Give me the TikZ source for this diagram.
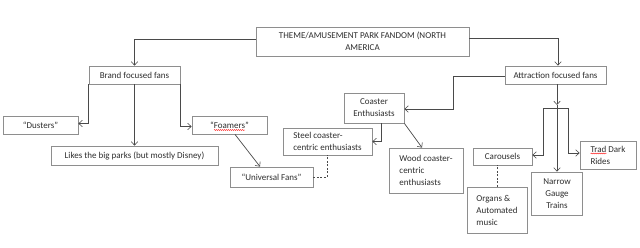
\documentclass[tikz,border=0pt]{standalone}
\usepackage{fontspec}
\setmainfont{Carlito}
\usetikzlibrary{arrows.meta,decorations.pathmorphing}
\definecolor{boxline}{HTML}{8E8E8E}
\definecolor{conline}{HTML}{4A4A4A}
\definecolor{txt}{HTML}{2E2E2E}
\tikzset{
  fanbox/.style={draw=boxline, line width=0.8pt, fill=white, inner sep=0pt, text=txt,
    font=\fontsize{9}{12}\selectfont, align=center},
  lbox/.style={fanbox, align=left},
  conn/.style={draw=conline, line width=0.7pt},
  arr/.style={conn, -{Straight Barb[length=3.5pt,width=6.5pt,line width=0.6pt]}},
  dconn/.style={conn, dashed, dash pattern=on 2pt off 1.5pt},
  spell/.style={draw=red, line width=0.4pt, decorate, decoration={snake, amplitude=0.5pt, segment length=2pt}}
}
\begin{document}
\begin{tikzpicture}[x=1pt,y=-1pt]
\useasboundingbox[fill=white] (0,0) rectangle (640,247);
% nodes
\node[fanbox, minimum width=213pt, minimum height=29pt] (title) at (362.5,41.5)
  {THEME/AMUSEMENT PARK FANDOM (NORTH\\AMERICA};
\node[fanbox, minimum width=91pt, minimum height=18pt] (brand) at (134.5,75) {Brand focused fans};
\node[fanbox, minimum width=101pt, minimum height=18pt] (attr) at (555.5,75) {Attraction focused fans};
\node[fanbox, minimum width=75pt, minimum height=18pt] (dusters) at (40.5,125) {“Dusters”};
\node[fanbox, minimum width=75pt, minimum height=18pt] (foamers) at (229.5,125) {“Foamers”};
\node[fanbox, minimum width=167pt, minimum height=19pt] (likes) at (134.5,155.5) {Likes the big parks (but mostly Disney)};
\node[fanbox, minimum width=83pt, minimum height=20pt] (universal) at (271.5,177) {“Universal Fans”};
\node[lbox, minimum width=89pt, minimum height=27pt] (steel) at (327.5,141.5) {Steel coaster-\\centric enthusiasts};
\node[fanbox, minimum width=60pt, minimum height=30pt] (coaster) at (374,108) {Coaster\\Enthusiasts};
\node[lbox, minimum width=74pt, minimum height=45pt] (wood) at (426,170.5) {Wood coaster-\\centric\\enthusiasts};
\node[fanbox, minimum width=59pt, minimum height=17pt] (carousels) at (502.5,156.5) {Carousels};
\node[lbox, minimum width=60pt, minimum height=46pt] (organs) at (497,210) {Organs \&\\Automated\\music};
\node[fanbox, minimum width=51pt, minimum height=43pt] (narrow) at (557,193.5) {Narrow\\Gauge\\Trains};
\node[lbox, minimum width=56pt, minimum height=28pt] (trad) at (608,155) {Trad Dark\\Rides};
\coordinate (hub) at (557,105);
\coordinate (bar) at (557,108);
% spell-check underlines
\draw[spell] ([xshift=-15.5pt,yshift=-5pt]foamers.center) -- ([xshift=15.5pt,yshift=-5pt]foamers.center);
\draw[spell] ([xshift=-17.5pt,yshift=1.5pt]trad.center) -- ([xshift=-1.5pt,yshift=1.5pt]trad.center);
% connectors
\draw[arr] ([yshift=2.5pt]title.west) -| (brand.north);
\draw[arr] ([yshift=3.5pt]title.east) -| ([xshift=2.5pt]attr.north);
\draw[arr] (brand.south west) |- ([yshift=1.5pt]dusters.east);
\draw[arr] (brand.south) -- (likes.north);
\draw[arr] (brand.south east) |- ([yshift=-1.5pt]foamers.west);
\draw[arr] ([xshift=5.5pt]foamers.south) -- ([xshift=-11.5pt]universal.north);
\draw[dconn] (universal.east) -| ([xshift=-0.5pt]steel.south);
\draw[arr] ([yshift=-1pt]attr.west) -- ++(-51,0) |- ([yshift=-1pt]coaster.east);
\draw[arr] ([xshift=7pt]coaster.south) |- (steel.east);
\draw[arr] (coaster.south east) -- ([xshift=-4pt]wood.north);
\draw[arr] ([xshift=1.5pt]attr.south) -- (hub);
\draw[conn] (hub) -- (bar);
\draw[arr] (bar) -- (narrow.north);
\draw[arr] (bar) -- ++(-14,0) |- ([yshift=1.5pt]carousels.east);
\draw[arr] (bar) -- ++(11,0) |- ([yshift=2pt]trad.west);
\draw[dconn] (organs.north) -- (organs.north |- carousels.south);
\end{tikzpicture}
\end{document}
